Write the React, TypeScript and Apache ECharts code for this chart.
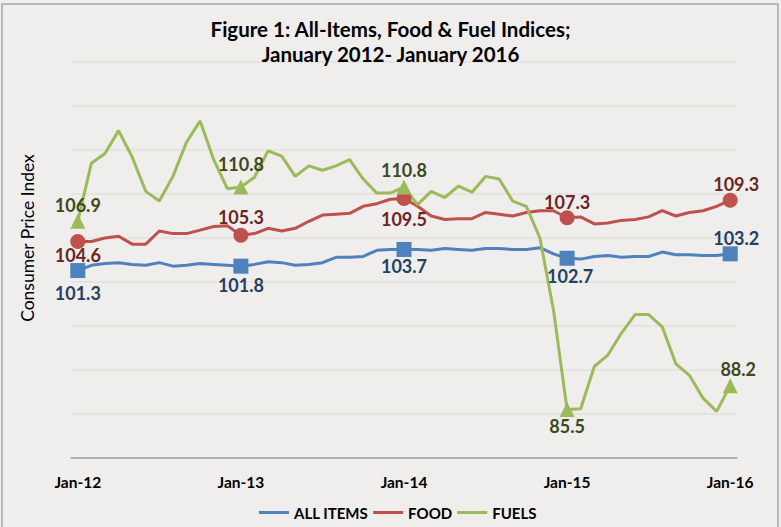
import React, { useEffect, useRef } from "react";
import * as echarts from "echarts";

const months = [
  "Jan-12","Feb-12","Mar-12","Apr-12","May-12","Jun-12","Jul-12","Aug-12","Sep-12","Oct-12","Nov-12","Dec-12",
  "Jan-13","Feb-13","Mar-13","Apr-13","May-13","Jun-13","Jul-13","Aug-13","Sep-13","Oct-13","Nov-13","Dec-13",
  "Jan-14","Feb-14","Mar-14","Apr-14","May-14","Jun-14","Jul-14","Aug-14","Sep-14","Oct-14","Nov-14","Dec-14",
  "Jan-15","Feb-15","Mar-15","Apr-15","May-15","Jun-15","Jul-15","Aug-15","Sep-15","Oct-15","Nov-15","Dec-15",
  "Jan-16",
];

const allItems = [
  101.3, 101.9, 102.1, 102.2, 102.0, 101.9, 102.2, 101.8, 101.9, 102.1, 102.0, 101.9,
  101.8, 102.0, 102.3, 102.2, 101.9, 102.0, 102.2, 102.8, 102.8, 102.9, 103.6, 103.7,
  103.7, 103.7, 103.6, 103.8, 103.7, 103.6, 103.8, 103.8, 103.7, 103.7, 103.9, 103.2,
  102.7, 102.6, 102.9, 103.0, 102.8, 102.9, 102.9, 103.4, 103.1, 103.1, 103.0, 103.0,
  103.2,
];

const food = [
  104.6, 104.6, 105.0, 105.2, 104.3, 104.3, 105.8, 105.5, 105.5, 105.9, 106.3, 106.4,
  105.3, 105.5, 106.1, 105.8, 106.1, 106.9, 107.6, 107.7, 107.8, 108.6, 108.9, 109.4,
  109.5, 108.6, 107.5, 107.1, 107.2, 107.2, 107.9, 107.7, 107.5, 107.9, 108.1, 108.1,
  107.3, 107.4, 106.6, 106.7, 107.0, 107.1, 107.4, 108.1, 107.5, 107.9, 108.1, 108.6,
  109.3,
];

const fuels = [
  106.9, 113.5, 114.6, 117.2, 114.2, 110.3, 109.2, 112.0, 115.9, 118.3, 113.9, 110.6,
  110.8, 111.9, 114.9, 114.3, 112.0, 113.2, 112.7, 113.2, 113.9, 111.7, 110.1, 110.1,
  110.8, 108.8, 110.3, 109.6, 110.9, 110.2, 112.0, 111.7, 109.2, 108.6, 105.0, 96.8,
  85.5, 85.6, 90.4, 91.7, 94.2, 96.3, 96.3, 94.9, 90.7, 89.4, 86.8, 85.3,
  88.2,
];

const seriesNames = ["ALL ITEMS", "FOOD", "FUELS"];
const yMin = 80;
const yMax = 125;
const yStep = 5;

// label offsets (styling) for the January markers
const allOffsets = [[0, 22], [0, 19], [0, 17], [3, 18], [6, -16]];
const foodOffsets = [[0, 13], [0, -18], [0, 21], [0, -16], [6, -16]];
const fuelOffsets = [[0, -16], [0, -23], [0, -17], [0, 16], [8, -17]];

function buildData(values: number[], symbol: string, offsets: number[][], labelColor: string) {
  return values.map((v, i) => {
    if (i % 12 === 0) {
      return {
        value: v,
        symbol,
        symbolSize: 15,
        label: {
          show: true,
          position: "inside",
          offset: offsets[i / 12],
          formatter: (p: any) => Number(p.value).toFixed(1),
          color: labelColor,
          fontFamily: "Lato",
          fontWeight: "bold",
          fontSize: 18,
        },
      };
    }
    return { value: v, symbol: "none", symbolSize: 0 };
  });
}

export default function App() {
  const ref = useRef<HTMLDivElement>(null);
  useEffect(() => {
    document.body.style.margin = "0";
    const chart = echarts.init(ref.current!, null, { renderer: "svg" });
    const makeSeries = (name: string, values: number[], color: string, symbol: string, offsets: number[][], labelColor: string) => ({
      name,
      type: "line",
      data: buildData(values, symbol, offsets, labelColor),
      showSymbol: true,
      lineStyle: { color, width: 3 },
      itemStyle: { color },
      emphasis: { disabled: true },
    });
    chart.setOption({
      animation: false,
      backgroundColor: "#EFEEEC",
      title: {
        text: "Figure 1: All-Items, Food & Fuel Indices;\nJanuary 2012- January 2016",
        left: "center",
        top: 11,
        textStyle: {
          fontFamily: "Lato",
          fontWeight: "bold",
          fontSize: 20.5,
          lineHeight: 25,
          color: "#000",
        },
      },
      graphic: [
        {
          type: "rect",
          shape: { x: 2, y: 4, width: 776, height: 540 },
          style: { fill: "none", stroke: "#A6A6A6", lineWidth: 1.5 },
          silent: true,
        },
        {
          type: "text",
          x: 27,
          y: 238,
          rotation: Math.PI / 2,
          style: {
            text: "Consumer Price Index",
            fontFamily: "Lato",
            fontSize: 17.5,
            fill: "#000",
            align: "center",
            verticalAlign: "middle",
          },
        },
      ],
      legend: {
        data: seriesNames,
        bottom: 2,
        left: 254,
        icon: "rect",
        itemWidth: 30,
        itemHeight: 3,
        itemGap: 5,
        textStyle: { fontFamily: "Lato", fontWeight: "bold", fontSize: 15, color: "#000" },
      },
      grid: { left: 71, right: 44, top: 62, bottom: 69 },
      xAxis: {
        type: "category",
        data: months,
        boundaryGap: true,
        axisLine: { lineStyle: { color: "#A0A0A0", width: 1.5 } },
        axisTick: { show: false },
        axisLabel: {
          interval: 11,
          margin: 16,
          fontFamily: "Lato",
          fontWeight: "bold",
          fontSize: 15.5,
          color: "#000",
        },
      },
      yAxis: {
        type: "value",
        min: yMin,
        max: yMax,
        interval: yStep,
        axisLabel: { show: false },
        axisLine: { show: false },
        axisTick: { show: false },
        splitLine: { lineStyle: { color: "#E2E1DE", width: 1.5 } },
      },
      series: [
        makeSeries(seriesNames[0], allItems, "#4F81BD", "rect", allOffsets, "#244062"),
        makeSeries(seriesNames[1], food, "#C0504D", "circle", foodOffsets, "#6B2525"),
        makeSeries(seriesNames[2], fuels, "#9BBB59", "triangle", fuelOffsets, "#3C4A20"),
      ],
    });
    return () => chart.dispose();
  }, []);
  return <div ref={ref} style={{ width: 781, height: 527 }} />;
}
